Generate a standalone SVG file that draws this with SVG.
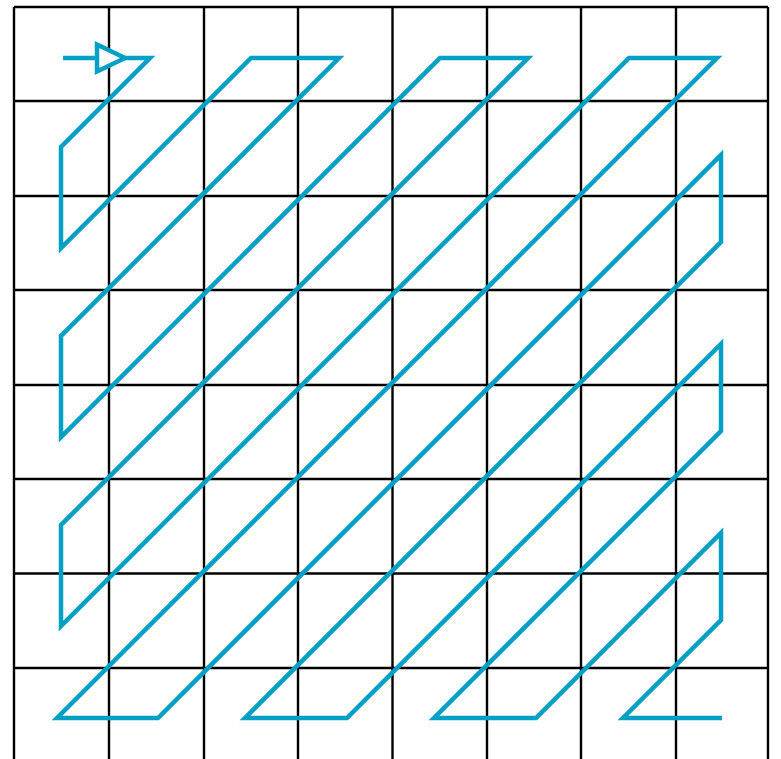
<svg xmlns="http://www.w3.org/2000/svg" width="781" height="759" viewBox="0 0 781 759">
<style>
.g{stroke:#000;stroke-width:2.4;fill:none}
.z{stroke:#02a0c4;stroke-width:4.5;fill:none;stroke-linejoin:miter}
</style>
<rect width="781" height="759" fill="#fff"/>
<g id="grid" class="g">
<line x1="14" y1="7" x2="14" y2="759"/>
<line x1="109" y1="7" x2="109" y2="759"/>
<line x1="204" y1="7" x2="204" y2="759"/>
<line x1="298" y1="7" x2="298" y2="759"/>
<line x1="392.5" y1="7" x2="392.5" y2="759"/>
<line x1="487" y1="7" x2="487" y2="759"/>
<line x1="581" y1="7" x2="581" y2="759"/>
<line x1="676" y1="7" x2="676" y2="759"/>
<line x1="768" y1="7" x2="768" y2="759"/>
<line x1="14" y1="7" x2="768" y2="7"/>
<line x1="14" y1="101" x2="768" y2="101"/>
<line x1="14" y1="196" x2="768" y2="196"/>
<line x1="14" y1="290" x2="768" y2="290"/>
<line x1="14" y1="385" x2="768" y2="385"/>
<line x1="14" y1="479" x2="768" y2="479"/>
<line x1="14" y1="573.5" x2="768" y2="573.5"/>
<line x1="14" y1="668" x2="768" y2="668"/>
</g>
<g id="zigzag" class="z">
<path d="M63,58 L150,58 L61,147 L61,248 L251,58 L339,58 L61,336 L61,437 L440,58 L528,58 L61,525 L61,626 L629,58 L717,58 L57,718 L158,718 L721,155 L721,242 L245,718 L347,718 L721,344 L721,431 L434,718 L536,718 L721,533 L721,620 L623,718 L722,718"/>
<polygon points="97,44.5 125,58 97,71.5" fill="#fff"/>
</g>
</svg>
